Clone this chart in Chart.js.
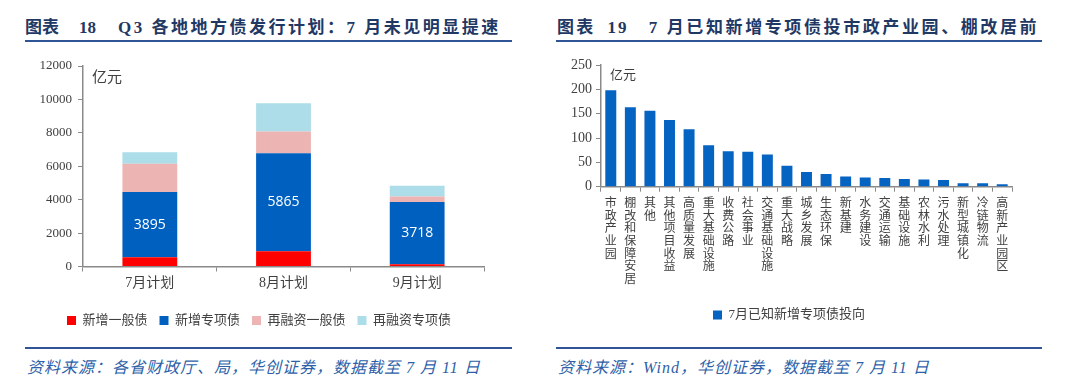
<!DOCTYPE html>
<html>
<head>
<meta charset="utf-8">
<script src="https://cdn.jsdelivr.net/npm/chart.js@4.4.1/dist/chart.umd.min.js"></script>
<style>
  body { margin: 0; background: #fff; width: 1080px; height: 387px; position: relative; overflow: hidden;
         font-family: "Liberation Serif", "Noto Sans CJK SC", serif; }
  .title { position: absolute; top: 13px; font-size: 17px; font-weight: bold; color: #1F3864; white-space: pre; }
  .title span { display: inline-block; }
  .rule { position: absolute; height: 2px; background: #2F5597; }
  .source { position: absolute; top: 354px; font-size: 16px; font-style: italic; color: #2E5FA8; white-space: pre; letter-spacing: 1px; }
  .unit { position: absolute; color: #404040; font-family: "Noto Sans CJK SC", sans-serif; }
  .box { position: absolute; }
</style>
</head>
<body>
<div class="title" style="left:25px"><span>图表</span><span style="margin-left:20px">18</span><span style="margin-left:22px; letter-spacing:2.5px">Q3 各地地方债发行计划：7 月未见明显提速</span></div>
<div class="rule" style="left:25px; top:40px; width:487px"></div>
<div class="title" style="left:557px; letter-spacing:2.2px"><span>图表</span><span style="margin-left:12px">19</span><span style="margin-left:20px; letter-spacing:2.6px">7 月已知新增专项债投市政产业园、棚改居前</span></div>
<div class="rule" style="left:556px; top:40px; width:486px"></div>

<div class="box" style="left:0; top:45px; width:540px; height:300px"><canvas id="planChart"></canvas></div>
<div class="box" style="left:540px; top:45px; width:540px; height:300px"><canvas id="useChart"></canvas></div>
<div class="unit" style="left:92px; top:65px; font-size:15px">亿元</div>
<div class="unit" style="left:610px; top:64px; font-size:13px">亿元</div>

<div class="rule" style="left:25px; top:347px; width:487px"></div>
<div class="rule" style="left:556px; top:347px; width:486px"></div>
<div class="source" style="left:27px">资料来源：各省财政厅、局，华创证券，数据截至 7 月 11 日</div>
<div class="source" style="left:558px">资料来源：Wind，华创证券，数据截至 7 月 11 日</div>

<script>
// 图表18 data
const months = ["7月计划", "8月计划", "9月计划"];
const newGeneral = [560, 910, 140];
const newSpecial = [3895, 5865, 3718];
const refiGeneral = [1700, 1300, 330];
const refiSpecial = [680, 1700, 650];
const planTicks = [0, 2000, 4000, 6000, 8000, 10000, 12000];

// 图表19 data
const sectors = ["市政产业园", "棚改和保障安居", "其他", "其他项目收益", "高质量发展", "重大基础设施",
  "收费公路", "社会事业", "交通基础设施", "重大战略", "城乡发展", "生态环保", "新基建", "水务建设",
  "交通运输", "基础设施", "农林水利", "污水处理", "新型城镇化", "冷链物流", "高新产业园区"];
const sectorValues = [198, 163, 156, 137, 118, 85, 73, 72, 66, 43, 30, 26, 21, 19, 18, 16, 15, 14, 7, 7, 5];
const useTicks = [0, 50, 100, 150, 200, 250];

const FONT = '"Liberation Serif", "Noto Sans CJK SC", serif';
const GREY = "#404040";
const AXIS = "#8a8a8a";

// white value labels inside the blue segment
const valueLabels = {
  id: "valueLabels",
  afterDatasetsDraw(chart) {
    const ctx = chart.ctx;
    chart.data.datasets.forEach((ds, di) => {
      if (!ds.showValue) return;
      const meta = chart.getDatasetMeta(di);
      meta.data.forEach((bar, i) => {
        ctx.save();
        ctx.fillStyle = "#fff";
        ctx.font = '14px "Open Sans", sans-serif';
        ctx.textAlign = "center";
        ctx.textBaseline = "middle";
        ctx.fillText(ds.data[i], bar.x, (bar.y + bar.base) / 2);
        ctx.restore();
      });
    });
  }
};

new Chart(document.getElementById("planChart"), {
  type: "bar",
  data: {
    labels: months,
    datasets: [
      { label: "新增一般债", data: newGeneral, backgroundColor: "#FF0000" },
      { label: "新增专项债", data: newSpecial, backgroundColor: "#0060C0", showValue: true },
      { label: "再融资一般债", data: refiGeneral, backgroundColor: "#EDB4B4" },
      { label: "再融资专项债", data: refiSpecial, backgroundColor: "#ADDDE8" }
    ]
  },
  options: {
    responsive: true,
    maintainAspectRatio: false,
    animation: false,
    layout: { padding: { left: 34, right: 56, top: 21, bottom: 8 } },
    datasets: { bar: { categoryPercentage: 1, barPercentage: 0.41 } },
    plugins: {
      tooltip: { enabled: false },
      legend: {
        position: "bottom",
        labels: { boxWidth: 9, boxHeight: 9, padding: 12, color: GREY, font: { family: FONT, size: 13 } }
      }
    },
    scales: {
      x: {
        stacked: true,
        grid: { drawOnChartArea: false, tickLength: 5, color: AXIS },
        border: { color: AXIS, width: 1.5 },
        ticks: { color: GREY, padding: 3, font: { family: FONT, size: 14 } },
        afterFit: s => { s.height = 35.5; }
      },
      y: {
        stacked: true,
        min: 0,
        max: 12000,
        afterBuildTicks: s => { s.ticks = planTicks.map(v => ({ value: v })); },
        grid: { drawOnChartArea: false, tickLength: 5, color: AXIS },
        border: { color: AXIS, width: 1.5 },
        ticks: { color: GREY, padding: 6, font: { family: FONT, size: 13 }, callback: v => String(v) },
        afterFit: s => { s.width = 49; }
      }
    }
  },
  plugins: [valueLabels]
});

new Chart(document.getElementById("useChart"), {
  type: "bar",
  data: {
    labels: sectors.map(s => s.split("")),
    datasets: [
      { label: "7月已知新增专项债投向", data: sectorValues, backgroundColor: "#0563C1" }
    ]
  },
  options: {
    responsive: true,
    maintainAspectRatio: false,
    animation: false,
    layout: { padding: { left: 26, right: 68, top: 20, bottom: 13.5 } },
    datasets: { bar: { categoryPercentage: 1, barPercentage: 0.56 } },
    plugins: {
      tooltip: { enabled: false },
      legend: {
        position: "bottom",
        labels: { boxWidth: 9, boxHeight: 9, padding: 10, color: GREY, font: { family: FONT, size: 13 } }
      }
    },
    scales: {
      x: {
        grid: { drawOnChartArea: false, tickLength: 5, color: AXIS },
        border: { color: AXIS, width: 1.5 },
        ticks: { color: GREY, padding: 6, autoSkip: false, maxRotation: 0, minRotation: 0,
                 font: { family: FONT, size: 12, lineHeight: 1.05 } },
        afterFit: s => { s.height = 111.8; }
      },
      y: {
        min: 0,
        max: 250,
        afterBuildTicks: s => { s.ticks = useTicks.map(v => ({ value: v })); },
        grid: { drawOnChartArea: false, tickLength: 5, color: AXIS },
        border: { color: AXIS, width: 1.5 },
        ticks: { color: GREY, padding: 4, font: { family: FONT, size: 14 }, callback: v => String(v) },
        afterFit: s => { s.width = 35; }
      }
    }
  }
});
</script>
</body>
</html>
